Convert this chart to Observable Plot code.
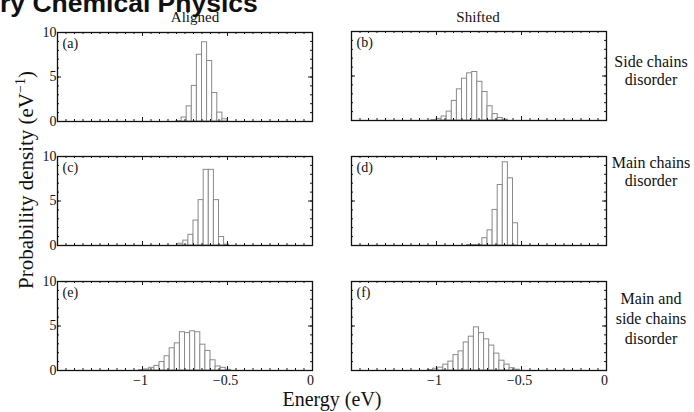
<!DOCTYPE html>
<html><head><meta charset="utf-8">
<script src="https://cdn.jsdelivr.net/npm/d3@7"></script>
<script src="https://cdn.jsdelivr.net/npm/@observablehq/plot@0.6"></script>
<style>
html,body{margin:0;padding:0;background:#fff;}
#root{position:relative;width:694px;height:412px;overflow:hidden;background:#fff;}
#root svg{position:absolute;}
</style></head><body><div id="root"></div>
<script>
// ---- data ----
const binWidth = 0.03;                       // eV
const panelNames = ["(a)", "(b)", "(c)", "(d)", "(e)", "(f)"];
const binStarts = [-0.80, -1.03, -0.79, -0.82, -1.02, -1.05];
const densityA = [0.05, 0.45, 1.7, 4.0, 7.5, 8.9, 6.8, 3.2, 1.0, 0.25];
const densityB = [0.05, 0.18, 0.45, 1.0, 2.2, 3.5, 4.7, 5.3, 5.45, 4.35, 3.2, 1.6, 0.72, 0.28, 0.1];
const densityC = [0.2, 0.55, 1.2, 2.8, 5.1, 8.5, 8.5, 5.1, 0.95, 0.1];
const densityD = [0.05, 0.05, 0.05, 0.82, 1.7, 4.0, 6.8, 9.35, 7.55, 2.5];
const densityE = [0.05, 0.12, 0.3, 0.52, 0.95, 1.6, 2.5, 3.05, 4.3, 4.2, 4.4, 4.3, 2.9, 2.2, 1.15, 0.45, 0.3, 0.08];
const densityF = [0.05, 0.2, 0.32, 0.66, 1.0, 1.73, 2.15, 3.15, 3.8, 4.85, 4.2, 3.5, 2.8, 1.9, 1.1, 0.66, 0.26, 0.09];
const densities = [densityA, densityB, densityC, densityD, densityE, densityF];
const columnTitles = ["Aligned", "Shifted"];
const rowLabels = [["Side chains", "disorder"], ["Main chains", "disorder"], ["Main and", "side chains", "disorder"]];
const xTicks = [-1, -0.5, 0];
const yTicks = [0, 5, 10];
const xDomain = [-1.5, 0];
const yDomain = [0, 10];
const headerText = "ry Chemical Physics";
const xTitle = "Energy (eV)";
const yTitle = "Probability density (eV";

// ---- layout ----
const W = 694, H = 412;
const panelW = 255, panelH = 89;
const colLeft = [57, 351];
const rowTop = [[32, 156, 281], [31, 156, 281]];
const mL = 30, mR = 4, mT = 4, mB = 24;
const serif = "'Liberation Serif', 'DejaVu Serif', serif";

const minorX = d3.range(-30, 1).map(k => k * 0.05);
const majorX = [-1.5, -1, -0.5, 0];
const minorY = d3.range(0, 11);
const fmt = d => d < 0 ? "\u2212" + Math.abs(d) : String(d);
const root = document.getElementById("root");

panelNames.forEach((name, i) => {
  const col = i % 2, row = Math.floor(i / 2);
  const bars = densities[i].map((v, k) => ({x1: binStarts[i] + k * binWidth, x2: binStarts[i] + (k + 1) * binWidth, y: v}));
  const ink = "#1a1a1a";
  const marks = [
    Plot.rect(bars, {x1: "x1", x2: "x2", y1: 0, y2: "y", fill: "white", stroke: "#8a8a8a", strokeWidth: 1}),
    Plot.ruleX(minorX, {x: d => d, insetTop: panelH - 2, stroke: ink}),
    Plot.ruleX(minorX, {x: d => d, insetBottom: panelH - 2, stroke: ink}),
    Plot.ruleX(majorX, {x: d => d, insetTop: panelH - 4, stroke: ink}),
    Plot.ruleX(majorX, {x: d => d, insetBottom: panelH - 4, stroke: ink}),
    Plot.ruleY(minorY, {y: d => d, insetRight: panelW - 2, stroke: ink}),
    Plot.ruleY(minorY, {y: d => d, insetLeft: panelW - 2, stroke: ink}),
    Plot.ruleY(yTicks, {y: d => d, insetRight: panelW - 4, stroke: ink}),
    Plot.ruleY(yTicks, {y: d => d, insetLeft: panelW - 4, stroke: ink}),
    Plot.frame({stroke: "#111", strokeWidth: 1.3}),
    Plot.text([name], {frameAnchor: "top-left", dx: 5, dy: 6, lineAnchor: "top", textAnchor: "start", fontSize: 14, fill: "#111"})
  ];
  if (col === 0) marks.push(Plot.axisY(yTicks, {tickSize: 0, tickPadding: 1, fontSize: 14, fill: "#111", label: null}));
  if (row === 2) marks.push(Plot.axisX(xTicks, {tickSize: 0, tickPadding: 5, tickFormat: fmt, fontSize: 14, dx: -2, fill: "#111", label: null}));
  const chart = Plot.plot({
    width: panelW + mL + mR,
    height: panelH + mT + mB,
    marginLeft: mL, marginRight: mR, marginTop: mT, marginBottom: mB,
    x: {domain: xDomain, axis: row === 2 ? undefined : null},
    y: {domain: yDomain, axis: col === 0 ? undefined : null},
    style: {fontFamily: serif, fontSize: "14px", background: "transparent", overflow: "visible"},
    marks
  });
  chart.style.left = (colLeft[col] - mL) + "px";
  chart.style.top = (rowTop[col][row] - mT) + "px";
  chart.style.maxWidth = "none";
  root.appendChild(chart);
});

// ---- titles (overlay) ----
const ns = "http://www.w3.org/2000/svg";
const svg = document.createElementNS(ns, "svg");
svg.setAttribute("width", W); svg.setAttribute("height", H);
svg.style.left = "0px"; svg.style.top = "0px";
root.appendChild(svg);
function addText(str, x, y, opts = {}) {
  const t = document.createElementNS(ns, "text");
  t.setAttribute("x", x); t.setAttribute("y", y);
  t.setAttribute("text-anchor", opts.anchor || "middle");
  t.setAttribute("font-family", opts.family || serif);
  t.setAttribute("font-size", opts.size || 14);
  if (opts.weight) t.setAttribute("font-weight", opts.weight);
  if (opts.transform) t.setAttribute("transform", opts.transform);
  t.setAttribute("fill", "#111");
  t.textContent = str;
  svg.appendChild(t);
  return t;
}
addText(headerText, 0, 12, {anchor: "start", family: "'Liberation Sans', Arial, sans-serif", size: 26.5, weight: "bold"});
addText(columnTitles[0], 195, 22, {size: 15});
addText(columnTitles[1], 478, 22, {size: 15});
const rowBase = [[67, 85], [168, 186], [304, 324, 344]];
rowLabels.forEach((lines, r) => lines.forEach((s, j) => addText(s, 651, rowBase[r][j], {size: 16})));
addText(xTitle, 332, 406, {size: 20});
const yt = addText(yTitle, 33, 180, {size: 21, transform: "rotate(-90 33 180)"});
const sup = document.createElementNS(ns, "tspan");
sup.setAttribute("dy", "-8"); sup.setAttribute("font-size", "14"); sup.textContent = "\u22121";
const close = document.createElementNS(ns, "tspan");
close.setAttribute("dy", "8"); close.textContent = ")";
yt.appendChild(sup); yt.appendChild(close);
</script></body></html>
